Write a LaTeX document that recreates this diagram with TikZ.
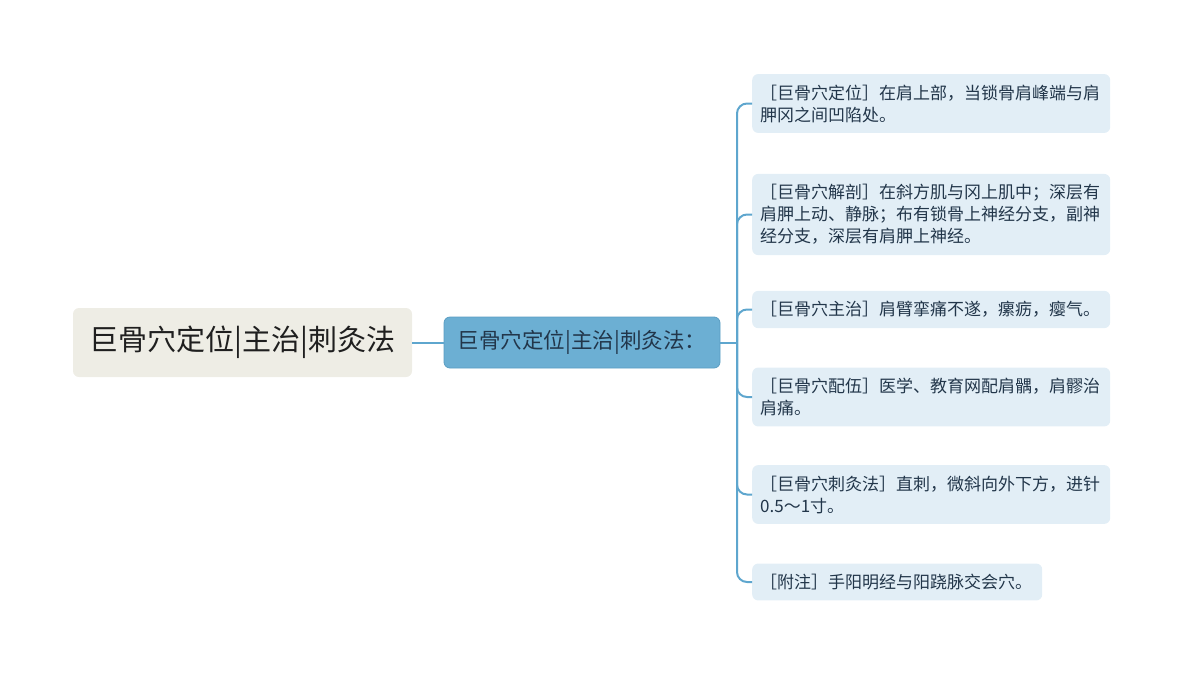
\documentclass[tikz,border=0pt]{standalone}
\usepackage{fontspec}
\setmainfont{Noto Sans CJK SC}
\usetikzlibrary{positioning}

\definecolor{linkblue}{HTML}{5EA6CE}
\definecolor{midfill}{HTML}{6CAFD3}
\definecolor{midline}{HTML}{5A9DC2}
\definecolor{leaffill}{HTML}{E2EEF6}
\definecolor{rootfill}{HTML}{EEEDE5}
\definecolor{leaftext}{HTML}{22364A}

\tikzset{
  link/.style={draw=linkblue, line width=2pt},
  rootbox/.style={fill=rootfill, rounded corners=6pt, minimum width=339pt,
    minimum height=69pt, text=black!88, font=\fontsize{29}{34}\selectfont},
  midbox/.style={fill=midfill, draw=midline, line width=0.8pt, rounded corners=6pt,
    minimum width=276pt, minimum height=51pt, text=leaftext,
    font=\fontsize{21.5}{26}\selectfont},
  leafbox/.style={fill=leaffill, rounded corners=6pt, anchor=west, align=left,
    text width=342pt, inner xsep=8pt, inner ysep=10.5pt, text=leaftext,
    font=\fontsize{17}{22}\selectfont},
}

\begin{document}
\begin{tikzpicture}[x=1pt, y=-1pt]
  \useasboundingbox (0,0) rectangle (1185,675);

  % Root and middle topic
  \node[rootbox] (root) at (242.5, 342.5) {巨骨穴定位|主治|刺灸法};
  \node[midbox] (mid) at (582, 342.5) {巨骨穴定位|主治|刺灸法：};

  % Leaves
  \node[leafbox] (l1) at (752, 103.5) {［巨骨穴定位］在肩上部，当锁骨肩峰端与肩\\胛冈之间凹陷处。};
  \node[leafbox] (l2) at (752, 214.5) {［巨骨穴解剖］在斜方肌与冈上肌中；深层有\\肩胛上动、静脉；布有锁骨上神经分支，副神\\经分支，深层有肩胛上神经。};
  \node[leafbox] (l3) at (752, 309.5) {［巨骨穴主治］肩臂挛痛不遂，瘰疬，瘿气。};
  \node[leafbox] (l4) at (752, 397) {［巨骨穴配伍］医学、教育网配肩髃，肩髎治\\肩痛。};
  \node[leafbox] (l5) at (752, 494.5) {［巨骨穴刺灸法］直刺，微斜向外下方，进针\\0.5～1寸。};
  \node[leafbox, text width=274pt] (l6) at (752, 582) {［附注］手阳明经与阳跷脉交会穴。};

  % Connectors
  \coordinate (hub) at (737, 342.5);
  \draw[link] (root.east) -- (mid.west);
  \draw[link] (mid.east) -- (hub);
  \foreach \n in {1,...,6}
    \draw[link, rounded corners=10pt] (hub) |- (l\n.west);
\end{tikzpicture}
\end{document}
